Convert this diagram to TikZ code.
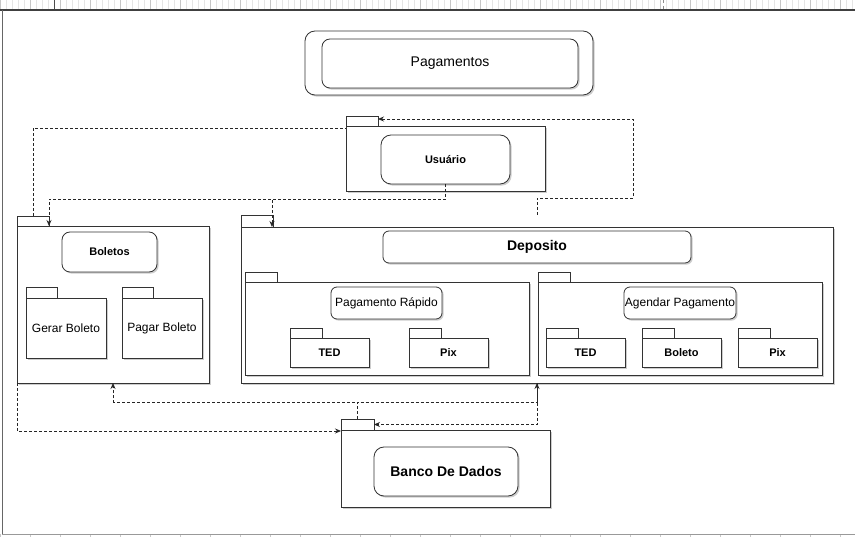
\documentclass[tikz,border=0pt]{standalone}
\usepackage{fontspec}
\setmainfont{Liberation Sans}
\usetikzlibrary{arrows.meta,shadows,calc}

\tikzset{
  every node/.style={inner sep=0pt, outer sep=0pt},
  edge/.style={draw=black!80, line width=0.8pt},
  pkg/.style={edge, fill=white, rectangle},
  shade/.style={drop shadow={shadow xshift=1.6pt, shadow yshift=-1.6pt, opacity=0.28, fill=black!70}},
  rbox/.style={edge, fill=white, rounded corners=#1},
  rbox/.default=8pt,
  depline/.style={draw=black!85, line width=0.8pt, dash pattern=on 3pt off 2pt},
  arr/.style={-{Stealth[length=6pt,width=5pt]}},
  fr/.style={font=\fontsize{12}{14}\selectfont},
  frl/.style={font=\fontsize{14}{16}\selectfont},
  fb/.style={font=\fontsize{11}{13}\selectfont\bfseries},
  fbl/.style={font=\fontsize{14}{16}\selectfont\bfseries},
}

% package: name, x1, y1, x2, y2, tab width, tab height, node options, body text
\newcommand\pkg[9]{%
  \node[pkg, shade, anchor=north west, minimum width={#4-#2}, minimum height={#5-#3}, #8] (#1) at (#2,#3) {#9};
  \node[pkg, anchor=south west, minimum width={#6}, minimum height={#7}] (#1t) at (#1.north west) {};
}

\begin{document}
\begin{tikzpicture}[x=1pt, y=-1pt]
  \useasboundingbox (0,0) rectangle (855,537);
  \fill[white] (0,0) rectangle (855,537);

  % editor frame: ruler strip, borders
  \foreach \gx in {0,6,...,855} \draw[black!10, line width=0.4pt] (\gx,0) -- (\gx,10);
  \foreach \gx in {0,30,...,855} \draw[black!22, line width=0.4pt] (\gx,0) -- (\gx,10);
  \foreach \gx in {0,30,...,855} \draw[black!22, line width=0.4pt] (\gx,534) -- (\gx,537);
  \draw[black!45, dashed, line width=0.4pt] (663,0) -- (663,10);
  \draw[black!70, line width=0.8pt] (54,0) -- (54,10);
  \draw[black!75, line width=1.2pt] (0,10) -- (855,10);
  \draw[black!60, line width=1pt] (2,10) -- (2,534);
  \draw[black!40, line width=1pt] (2,534) -- (855,534);

  % title
  \node[rbox=10pt, shade, minimum width=288, minimum height=64] (titleout) at (449,63) {};
  \node[rbox=8pt, shade, minimum width=256, minimum height=49, frl] (title) at (450,63.5) {Pagamentos};

  % Usuario package
  \pkg{usr}{346}{126}{545}{191}{32}{10}{}{}
  \node[rbox=10pt, shade, minimum width=129, minimum height=49, fb] (usrn) at (445.5,159.5) {Usuário};

  % Boletos package
  \pkg{bol}{17}{226}{209}{383}{32}{10}{}{}
  \node[rbox=8pt, shade, minimum width=95, minimum height=40, fb] (boln) at (109.5,252) {Boletos};
  \pkg{gerar}{26}{298}{106}{358}{31}{11}{fr}{Gerar Boleto}
  \pkg{pagar}{122}{298}{202}{358}{31}{11}{fr}{Pagar Boleto}

  % Deposito package
  \pkg{dep}{241}{227}{833}{383}{32}{12}{}{}
  \node[rbox=6pt, shade, minimum width=308, minimum height=32, fbl] (depn) at (537,247) {Deposito};

  \pkg{pr}{245}{282}{529}{375}{32}{10}{}{}
  \node[rbox=6pt, shade, minimum width=111, minimum height=32, fr] (prn) at (386.5,303) {Pagamento Rápido};
  \pkg{ted1}{290}{338}{369}{367}{32}{10}{fb}{TED}
  \pkg{pix1}{409}{338}{488}{367}{32}{10}{fb}{Pix}

  \pkg{ap}{538}{282}{822}{375}{32}{10}{}{}
  \node[rbox=6pt, shade, minimum width=112, minimum height=32, fr] (apn) at (680,303) {Agendar Pagamento};
  \pkg{ted2}{546}{338}{625}{367}{32}{10}{fb}{TED}
  \pkg{bolt2}{642}{338}{721}{367}{32}{10}{fb}{Boleto}
  \pkg{pix2}{738}{338}{817}{367}{32}{10}{fb}{Pix}

  % Banco De Dados package
  \pkg{bd}{341}{430}{550}{507}{33}{11}{}{}
  \node[rbox=10pt, shade, minimum width=144, minimum height=49, fbl] (bdn) at (446,471.5) {Banco De Dados};

  % dependencies between packages
  \coordinate (depfree) at (537,215);
  \coordinate (rturn) at (633,198);

  \draw[depline] (bolt.north) |- ([yshift=-2pt]usr.north west);
  \draw[depline, arr] (usrn.south) -- ++(0,15) -| ([xshift=32pt]bol.north west);
  \draw[depline, arr] (usrn.south) -- ++(0,15) -| ([xshift=31pt]dep.north west);
  \draw[depline, arr] (depfree) |- (rturn) |- ([yshift=2pt]usrt.east);

  \draw[depline, arr] (bdt.north) -- ++(0,-17) -| (bol.south);
  \draw[depline, arr] (bdt.north) -- ++(0,-17) -| (dep.south);
  \draw[depline, arr] (dep.south) |- (bdt.east);
  \draw[depline, arr] (bol.south west) |- ([yshift=-1pt]bd.north west);
\end{tikzpicture}
\end{document}
